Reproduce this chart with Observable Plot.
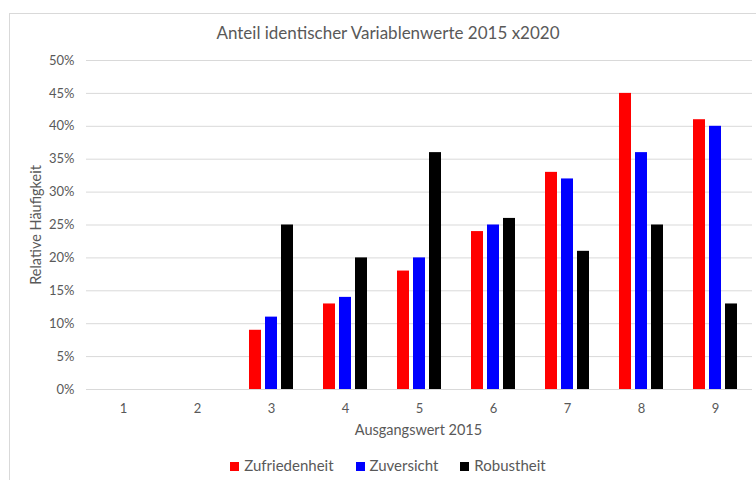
<!DOCTYPE html>
<html>
<head>
<meta charset="utf-8">
<script src="https://cdn.jsdelivr.net/npm/d3@7"></script>
<script src="https://cdn.jsdelivr.net/npm/@observablehq/plot@0.6"></script>
<style>
  html, body { margin: 0; padding: 0; background: #fff; }
  #wrap { position: relative; width: 756px; height: 480px; overflow: hidden; font-family: Lato, "Open Sans", sans-serif; color: #595959; }
  #frame { position: absolute; left: 9px; top: 13px; width: 760px; height: 480px; border: 1px solid #d9d9d9; box-sizing: border-box; }
  #title { position: absolute; left: 0; width: 776px; top: 22px; text-align: center; font-size: 17px; }
  #chart { position: absolute; left: 0; top: 0; }
  #xlabel { position: absolute; left: 84px; width: 669px; top: 421px; text-align: center; font-size: 14.5px; }
  #ylabel { position: absolute; left: 35px; top: 225px; transform: translate(-50%, -50%) rotate(-90deg); font-size: 14.5px; white-space: nowrap; }
  #legend { position: absolute; left: 0; width: 776px; top: 456px; text-align: center; font-size: 15px; }
  #legend span.item { margin: 0 11px; white-space: nowrap; }
  #legend span.sw { display: inline-block; width: 9px; height: 9px; margin-right: 5px; vertical-align: 0px; }
</style>
</head>
<body>
<div id="wrap">
  <div id="frame"></div>
  <div id="chart"></div>
  <div id="title"></div>
  <div id="xlabel"></div>
  <div id="ylabel"></div>
  <div id="legend"></div>
</div>
<script>
const titleText = "Anteil identischer Variablenwerte 2015 x2020";
const xLabel = "Ausgangswert 2015";
const yLabel = "Relative Häufigkeit";
const categories = [1, 2, 3, 4, 5, 6, 7, 8, 9];
const seriesNames = ["Zufriedenheit", "Zuversicht", "Robustheit"];
const seriesColors = ["#ff0000", "#0000ff", "#000000"];
const zufriedenheit = [null, null, 0.09, 0.13, 0.18, 0.24, 0.33, 0.45, 0.41];
const zuversicht    = [null, null, 0.11, 0.14, 0.20, 0.25, 0.32, 0.36, 0.40];
const robustheit    = [null, null, 0.25, 0.20, 0.36, 0.26, 0.21, 0.25, 0.13];
const yTicks = [0, 0.05, 0.10, 0.15, 0.20, 0.25, 0.30, 0.35, 0.40, 0.45, 0.50];

const seriesValues = [zufriedenheit, zuversicht, robustheit];
const rows = [];
categories.forEach((c, i) => {
  seriesNames.forEach((s, j) => {
    rows.push({cat: c, series: s, value: seriesValues[j][i]});
  });
});

document.getElementById("title").textContent = titleText;
document.getElementById("xlabel").textContent = xLabel;
document.getElementById("ylabel").textContent = yLabel;

const chart = Plot.plot({
  width: 756,
  height: 440,
  marginTop: 60,
  marginBottom: 51,
  marginLeft: 84,
  marginRight: 3,
  style: { fontFamily: "Lato, 'Open Sans', sans-serif", fontSize: "13px", color: "#595959", background: "transparent" },
  fx: { domain: categories, padding: 0, axis: "bottom", tickSize: 0, tickPadding: 14, label: null },
  x: { domain: seriesNames, paddingInner: 0.22, paddingOuter: 0.83, axis: null },
  y: { domain: [0, 0.5], ticks: yTicks, tickFormat: d3.format(".0%"), tickSize: 0, tickPadding: 12, label: null },
  color: { domain: seriesNames, range: seriesColors },
  marks: [
    Plot.ruleY(yTicks, { stroke: "#d9d9d9", strokeWidth: 1 }),
    Plot.barY(rows, { fx: "cat", x: "series", y: "value", fill: "series" })
  ]
});
chart.querySelectorAll("text").forEach(t => t.setAttribute("fill", "#595959"));
document.getElementById("chart").appendChild(chart);

const legend = document.getElementById("legend");
seriesNames.forEach((s, j) => {
  const item = document.createElement("span");
  item.className = "item";
  const sw = document.createElement("span");
  sw.className = "sw";
  sw.style.background = seriesColors[j];
  item.appendChild(sw);
  item.appendChild(document.createTextNode(s));
  legend.appendChild(item);
});
</script>
</body>
</html>
